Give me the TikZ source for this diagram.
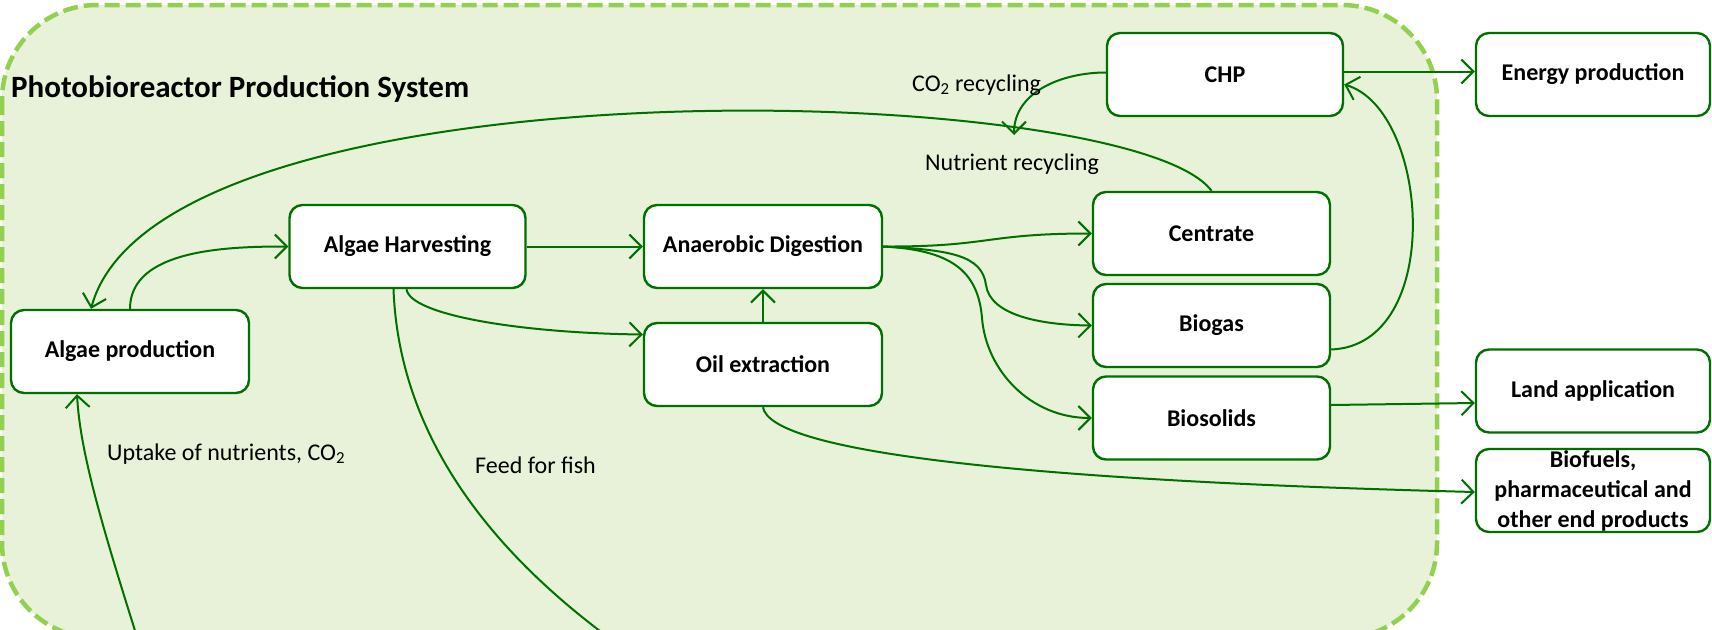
\documentclass[tikz,border=0pt]{standalone}
\usepackage{fontspec}
\setmainfont{Carlito}
\usetikzlibrary{arrows.meta}
\definecolor{leaf}{RGB}{0,112,0}
\definecolor{lime}{RGB}{146,208,80}
\definecolor{pale}{RGB}{231,242,216}
\tikzset{
  box/.style={draw=leaf, line width=2.4pt, rounded corners=13pt, fill=white, minimum width=236pt, minimum height=83pt, inner sep=0pt, align=center, font=\fontsize{24}{28}\selectfont\bfseries},
  wire/.style={draw=leaf, line width=2pt},
  flow/.style={wire, -{Straight Barb[length=12pt,width=24pt,line width=2pt]}},
  lbl/.style={font=\fontsize{24}{28}\selectfont, inner sep=0pt, anchor=base west}
}
\begin{document}
\begin{tikzpicture}[x=1pt,y=-1pt]
\useasboundingbox (0,0) rectangle (1712,629);
\clip (0,0) rectangle (1712,629);
\draw[lime, fill=pale, line width=4.5pt, dash pattern=on 15pt off 6pt, rounded corners=95pt] (2,5) rectangle (1437,638);
\node[lbl, font=\fontsize{31}{35}\selectfont\bfseries] (title) at (11,97) {Photobioreactor Production System};
% boxes
\node[box, minimum width=238pt] (alg) at (130,351.5) {Algae production};
\node[box] (harv) at (407.5,246.5) {Algae Harvesting};
\node[box, minimum width=238pt] (ad) at (763,246.5) {Anaerobic Digestion};
\node[box, minimum width=238pt] (oil) at (763,364.5) {Oil extraction};
\node[box] (chp) at (1225,74.5) {CHP};
\node[box, minimum width=237pt] (cen) at (1211.5,233.5) {Centrate};
\node[box, minimum width=237pt] (bgs) at (1211.5,325.5) {Biogas};
\node[box, minimum width=237pt] (bsol) at (1211.5,418) {Biosolids};
\node[box, minimum width=234pt] (energy) at (1593,74.5) {Energy production};
\node[box, minimum width=234pt] (land) at (1593,391) {Land application};
\node[box, minimum width=234pt, font=\fontsize{24}{30}\selectfont\bfseries] (prod) at (1593,490.5) {Biofuels,\\pharmaceutical and\\other end products};
% loose ends
\coordinate (co2tip) at (1014,135);
\coordinate (fish) at (612,640);
\coordinate (feed) at (138,640);
% connectors
\draw[flow] (alg.north) to[out=90, in=180, looseness=0.9] (harv.west);
\draw[flow] (harv) -- (ad);
\draw[flow] (oil) -- (ad);
\draw[flow] ([xshift=-1pt]harv.south) .. controls (410,315) and (520,333) .. ([yshift=30pt]oil.west);
\draw[wire] ([xshift=-14pt]harv.south) .. controls (398,410) and (462,530) .. (fish);
\draw[flow] (feed) .. controls (100,520) and (80,450) .. ([xshift=-53pt]alg.south);
\draw[flow] (cen.north) .. controls (1130,80) and (160,55) .. ([xshift=-39pt]alg.north);
\draw[flow] ([yshift=2pt]chp.west) to[out=180, in=90] (co2tip);
\draw[flow] (ad.east) .. controls (990,247) and (985,233.5) .. (cen.west);
\draw[flow] (ad.east) .. controls (950,250) and (982,255) .. (986,285) .. controls (990,315) and (1040,325) .. (bgs.west);
\draw[flow] (ad.east) .. controls (950,250) and (978,270) .. (982,318) .. controls (986,370) and (1030,418) .. (bsol.west);
\draw[flow] ([yshift=-24pt]bgs.east) .. controls (1445,345) and (1430,110) .. ([yshift=-10pt]chp.east);
\draw[flow] ([yshift=3pt]chp.east) -- ([yshift=3pt]energy.west);
\draw[flow] ([yshift=13pt]bsol.east) -- ([yshift=-12pt]land.west);
\draw[flow] (oil.south) .. controls (770,450) and (1000,480) .. ([yshift=-1.5pt]prod.west);
% labels
\node[lbl] (co2lbl) at (912,91) {CO\textsubscript{2} recycling};
\node[lbl] (nutlbl) at (925,170) {Nutrient recycling};
\node[lbl] (uplbl) at (107,460) {Uptake of nutrients, CO\textsubscript{2}};
\node[lbl] (fishlbl) at (475,473) {Feed for fish};
\end{tikzpicture}
\end{document}
